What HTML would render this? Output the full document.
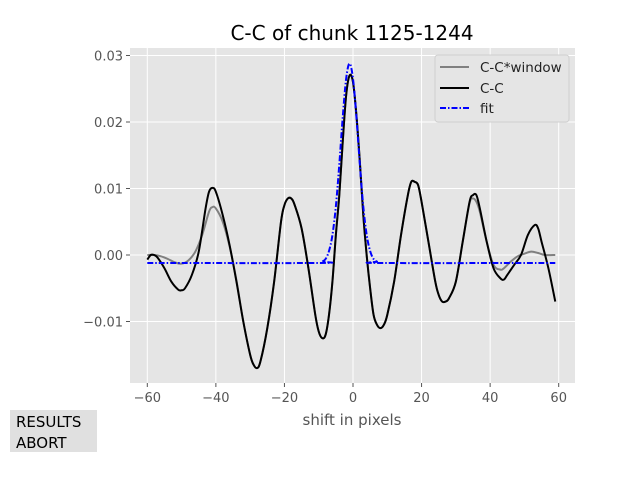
<!DOCTYPE html>
<html><head><meta charset="utf-8"><style>
body{margin:0;background:#fff;font-family:"Liberation Sans","DejaVu Sans",sans-serif;}
</style></head><body>
<svg width="640" height="480" viewBox="0 0 640 480" xmlns="http://www.w3.org/2000/svg" font-family="DejaVu Sans, Liberation Sans, sans-serif">
<rect x="0" y="0" width="640" height="480" fill="#fff"/>
<text x="352" y="40" text-anchor="middle" font-size="20" fill="#000">C-C of chunk 1125-1244</text>
<rect x="130" y="48" width="445" height="335" fill="#e5e5e5"/>
<g id="grid"></g>
<g id="ticks"></g>
<g id="series"></g>
<text x="352" y="425" text-anchor="middle" font-size="15" fill="#555">shift in pixels</text>
<g>
<rect x="435" y="55" width="134" height="67" rx="3" fill="#e5e5e5" stroke="#d0d0d0" stroke-width="1"/>
<line x1="440" y1="67" x2="469" y2="67" stroke="#808080" stroke-width="2"/>
<text x="480" y="72" font-size="13.5" fill="#222">C-C*window</text>
<line x1="440" y1="88" x2="469" y2="88" stroke="#000" stroke-width="2"/>
<text x="480" y="93" font-size="13.5" fill="#222">C-C</text>
<line x1="440" y1="108" x2="469" y2="108" stroke="#0000ff" stroke-width="2" stroke-dasharray="6,2,1.5,2"/>
<text x="480" y="113" font-size="13.5" fill="#222">fit</text>
</g>
<rect x="10" y="410" width="87" height="42" fill="#e0e0e0"/>
<text x="16" y="427" font-size="15" fill="#000">RESULTS</text>
<text x="16" y="448" font-size="15" fill="#000">ABORT</text>
</svg>
<script>
const xTicks=[-60,-40,-20,0,20,40,60];
const yTicks=[-0.01,0.00,0.01,0.02,0.03];
const yTickLabels=["−0.01","0.00","0.01","0.02","0.03"];
const ccX=[-60,-59,-58,-57,-55,-53,-51,-50,-49,-47,-45,-43,-42,-41,-40,-38,-36,-34,-32,-30,-29,-28,-27,-25,-23,-21,-20,-19,-18,-17,-15,-13,-11,-10,-9,-8,-7,-6,-5,-4,-3,-2,-1,0,1,2,3,4,5,6,7,8,9,10,12,14,16,17,18,19,20,22,24,25,26,27,28,30,32,34,35,36,37,39,41,43,44,45,47,49,51,53,54,55,57,59];
const ccY=[-0.0007,0,0,-0.0004,-0.002,-0.004,-0.0052,-0.0053,-0.005,-0.003,0.0005,0.007,0.0095,0.0101,0.0095,0.006,0.0015,-0.004,-0.010,-0.015,-0.0165,-0.017,-0.016,-0.011,-0.004,0.005,0.0075,0.0085,0.0085,0.0075,0.004,-0.002,-0.009,-0.0115,-0.0125,-0.012,-0.009,-0.004,0.003,0.009,0.017,0.024,0.027,0.026,0.021,0.014,0.006,-0.0001,-0.005,-0.009,-0.0105,-0.011,-0.0105,-0.009,-0.004,0.003,0.009,0.011,0.011,0.0105,0.008,0.002,-0.004,-0.006,-0.007,-0.007,-0.0065,-0.004,0.002,0.008,0.009,0.009,0.007,0.002,-0.002,-0.0035,-0.0037,-0.003,-0.0015,0,0.003,0.0045,0.004,0.002,-0.002,-0.007];
const winX=[-60,-58,-56,-54,-52,-50,-48,-46,-44,-42,-41,-40,-38,-36,-34,-32,-30,-29,-28,-27,-25,-23,-21,-20,-19,-18,-17,-15,-13,-11,-10,-9,-8,-7,-6,-5,-4,-3,-2,-1,0,1,2,3,4,5,6,7,8,9,10,12,14,16,17,18,19,20,22,24,25,26,27,28,30,32,34,35,36,37,39,41,43,44,46,48,50,52,54,56,59];
const winY=[0,0,-0.0002,-0.0006,-0.0011,-0.0013,-0.0008,0.0005,0.003,0.0065,0.0072,0.007,0.005,0.0013,-0.0038,-0.010,-0.015,-0.0165,-0.017,-0.016,-0.011,-0.004,0.005,0.0075,0.0085,0.0085,0.0075,0.004,-0.002,-0.009,-0.0115,-0.0125,-0.012,-0.009,-0.004,0.003,0.009,0.017,0.024,0.027,0.026,0.021,0.014,0.006,-0.0001,-0.005,-0.009,-0.0105,-0.011,-0.0105,-0.009,-0.004,0.003,0.009,0.011,0.011,0.0105,0.008,0.002,-0.004,-0.006,-0.007,-0.007,-0.0065,-0.004,0.002,0.0078,0.0085,0.008,0.0065,0.002,-0.0015,-0.0022,-0.002,-0.001,-0.0002,0.0002,0.0005,0.0003,0,0];
const fitX=[-60,-10,-9,-8,-7,-6,-5,-4,-3,-2,-1,0,1,2,3,4,5,6,7,8,59];
const fitY=[-0.0012,-0.0012,-0.001,-0.0006,0.0006,0.003,0.0073,0.0136,0.0207,0.0265,0.0288,0.0265,0.0207,0.0136,0.0073,0.003,0.0006,-0.0006,-0.001,-0.0012,-0.0012];
const X=v=>353+v*3.4283;
const Y=v=>255-v*6650;
const NS="http://www.w3.org/2000/svg";
const grid=document.getElementById('grid'),ticks=document.getElementById('ticks'),series=document.getElementById('series');
function mk(tag,attrs,parent){const e=document.createElementNS(NS,tag);for(const k in attrs)e.setAttribute(k,attrs[k]);parent.appendChild(e);return e;}
xTicks.forEach(t=>{
 const g=mk('line',{x1:X(t),x2:X(t),y1:48,y2:383,stroke:'#fff','stroke-width':1},grid);
 
 
 const tk=mk('line',{x1:X(t),x2:X(t),y1:383,y2:387,stroke:'#555'},ticks);
 
 
 const l=mk('text',{x:X(t),y:402,'text-anchor':'middle','font-size':13,fill:'#555'},ticks);
 l.textContent=t<0?'−'+(-t):String(t);
 
 
});
yTicks.forEach((t,i)=>{
 const g=mk('line',{x1:130,x2:575,y1:Y(t),y2:Y(t),stroke:'#fff','stroke-width':1},grid);
 
 
 const tk=mk('line',{x1:126,x2:130,y1:Y(t),y2:Y(t),stroke:'#555'},ticks);
 
 
 const l=mk('text',{x:123,y:Y(t)+5,'text-anchor':'end','font-size':13,fill:'#555'},ticks);
 l.textContent=yTickLabels[i];
 
 
});
function smooth(xs,ys){
 const p=xs.map((x,i)=>[X(x),Y(ys[i])]);
 let d='M'+p[0][0].toFixed(2)+','+p[0][1].toFixed(2);
 for(let i=0;i<p.length-1;i++){
  const p0=p[i-1]||p[i],p1=p[i],p2=p[i+1],p3=p[i+2]||p2;
  const c1=[p1[0]+(p2[0]-p0[0])/6,p1[1]+(p2[1]-p0[1])/6];
  const c2=[p2[0]-(p3[0]-p1[0])/6,p2[1]-(p3[1]-p1[1])/6];
  d+='C'+c1.map(v=>v.toFixed(2)).join(',')+' '+c2.map(v=>v.toFixed(2)).join(',')+' '+p2[0].toFixed(2)+','+p2[1].toFixed(2);
 }
 return d;
}
const w=mk('path',{d:smooth(winX,winY),fill:'none',stroke:'#808080','stroke-width':2},series);


const c=mk('path',{d:smooth(ccX,ccY),fill:'none',stroke:'#000','stroke-width':2},series);


const f=mk('path',{d:smooth(fitX,fitY),fill:'none',stroke:'#0000ff','stroke-width':2,'stroke-dasharray':'6,2,1.5,2'},series);


</script>
</body></html>
